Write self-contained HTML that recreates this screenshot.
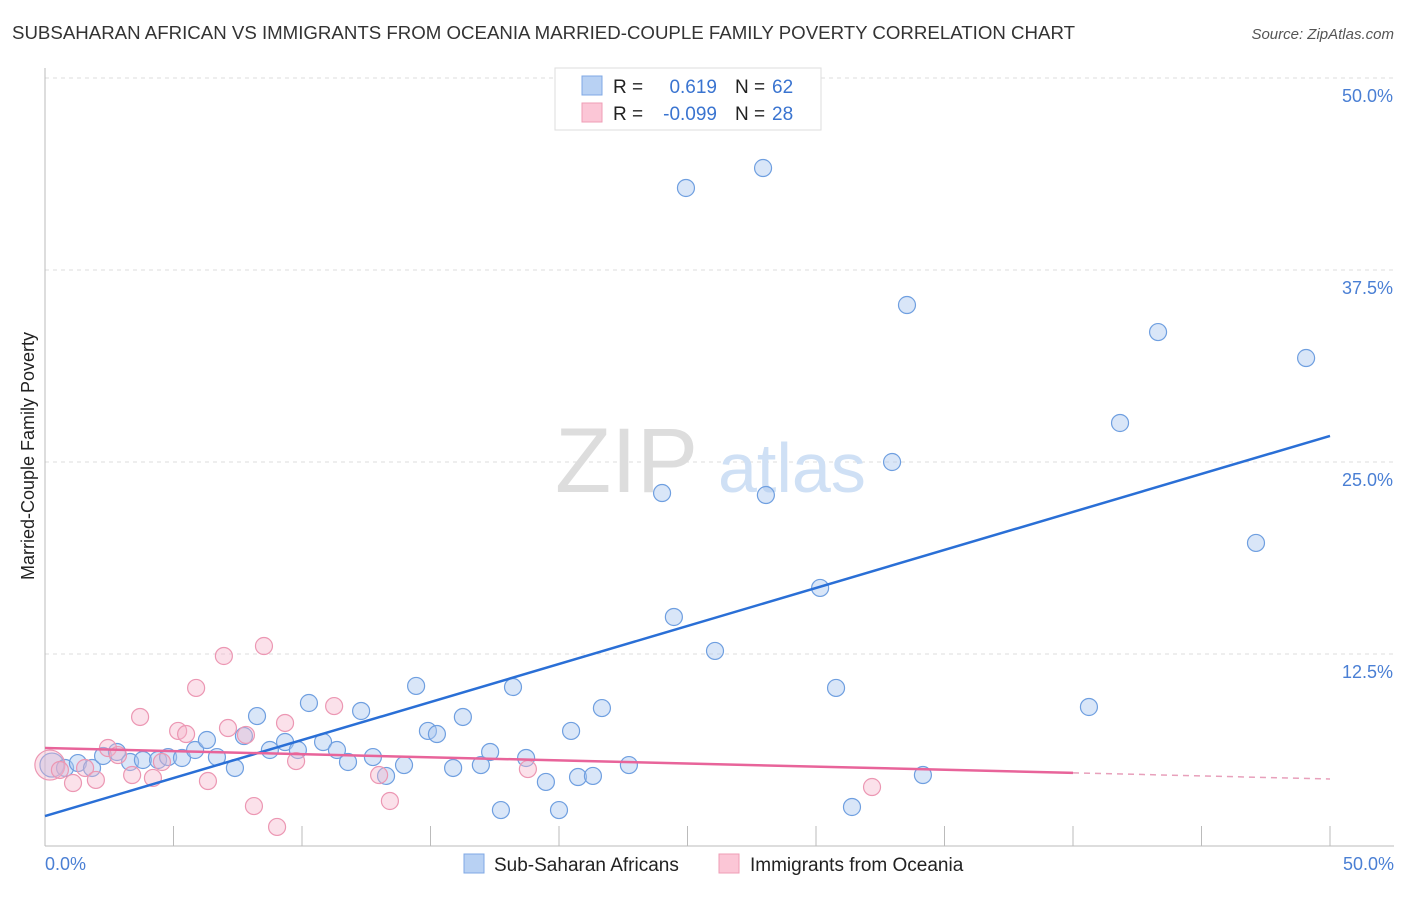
<!DOCTYPE html>
<html><head><meta charset="utf-8"><style>
body{margin:0;background:#fff;font-family:"Liberation Sans",sans-serif;}
svg text{font-family:"Liberation Sans",sans-serif;}
</style></head><body>
<svg id="chart" width="1406" height="892" xmlns="http://www.w3.org/2000/svg">
<text x="12" y="39" font-size="18" fill="#333" textLength="1063" lengthAdjust="spacingAndGlyphs">SUBSAHARAN AFRICAN VS IMMIGRANTS FROM OCEANIA MARRIED-COUPLE FAMILY POVERTY CORRELATION CHART</text>
<text x="1394" y="39" font-size="15" fill="#555" font-style="italic" text-anchor="end">Source: ZipAtlas.com</text>
<text x="34" y="456" font-size="18" fill="#222" text-anchor="middle" transform="rotate(-90 34 456)">Married-Couple Family Poverty</text>
<g id="grid"></g>
<line x1="45" y1="68" x2="45" y2="846" stroke="#bbb"/>
<line x1="45" y1="846" x2="1394" y2="846" stroke="#bbb"/>
<text x="555" y="492" font-size="92" fill="#ddd" font-family="Liberation Serif">ZIP</text>
<text x="718" y="492" font-size="70" fill="#cfe0f5">atlas</text>
<g id="ticks"></g>
<g id="pts"></g>
<g id="lines"></g>
<g>
<rect x="555" y="68" width="266" height="62" fill="#fff" stroke="#ddd"/>
<rect x="582" y="76" width="20" height="19" fill="#b8d1f3" stroke="#7fa8e4"/>
<rect x="582" y="103" width="20" height="19" fill="#fbc6d6" stroke="#ef9db6"/>
<text x="613" y="93" font-size="19" fill="#222">R =</text><text x="717" y="93" font-size="19" fill="#3a74d0" text-anchor="end">0.619</text>
<text x="735" y="93" font-size="19" fill="#222">N =</text><text x="772" y="93" font-size="19" fill="#3a74d0">62</text>
<text x="613" y="120" font-size="19" fill="#222">R =</text><text x="717" y="120" font-size="19" fill="#3a74d0" text-anchor="end">-0.099</text>
<text x="735" y="120" font-size="19" fill="#222">N =</text><text x="772" y="120" font-size="19" fill="#3a74d0">28</text>
</g>
<g>
<rect x="464" y="854" width="20" height="19" fill="#b8d1f3" stroke="#7fa8e4"/>
<text x="494" y="871" font-size="19" fill="#222">Sub-Saharan Africans</text>
<rect x="719" y="854" width="20" height="19" fill="#fbc6d6" stroke="#ef9db6"/>
<text x="750" y="871" font-size="19" fill="#222">Immigrants from Oceania</text>
</g>
</svg>
<script>
const xTicks=[0,5,10,15,20,25,30,35,40,45,50];
const yTicks=[12.5,25,37.5,50];
const yTickLabels=["12.5%","25.0%","37.5%","50.0%"];
const blueX=[0.27,0.78,1.28,1.83,2.26,2.80,3.31,3.81,4.40,4.79,5.33,5.84,6.30,6.69,7.39,7.74,8.25,8.75,9.34,9.84,10.27,10.82,11.36,11.79,12.30,12.76,13.27,13.97,14.44,14.90,15.25,15.88,16.26,16.96,17.32,17.74,18.21,18.72,19.49,20.0,20.47,20.74,21.32,21.67,22.72,24.01,24.47,24.94,26.07,27.94,28.05,30.16,30.78,31.40,32.96,33.54,34.16,40.62,41.83,43.31,47.12,49.07];
const blueY=[5.27,5.08,5.40,5.08,5.86,6.12,5.47,5.60,5.60,5.79,5.73,6.25,6.90,5.79,5.08,7.16,8.46,6.25,6.77,6.25,9.31,6.77,6.25,5.47,8.79,5.79,4.56,5.27,10.42,7.49,7.29,5.08,8.40,5.27,6.12,2.34,10.35,5.73,4.17,2.34,7.49,4.49,4.56,8.98,5.27,22.98,14.91,42.84,12.70,44.14,22.85,16.80,10.29,2.54,25.0,35.22,4.62,9.05,27.54,33.46,19.73,31.77];
const pinkX=[0.19,0.58,1.09,1.56,1.98,2.45,2.84,3.39,3.70,4.20,4.55,5.18,5.49,5.88,6.34,6.96,7.12,7.82,8.13,8.52,9.03,9.34,9.77,11.25,13.0,13.42,18.79,32.18];
const pinkY=[5.27,4.95,4.10,5.08,4.30,6.38,5.92,4.62,8.40,4.43,5.47,7.49,7.29,10.29,4.23,12.37,7.68,7.23,2.60,13.02,1.24,8.01,5.53,9.11,4.62,2.93,5.01,3.84];
const blueTrend=[1.95,26.7];
const pinkTrend=[6.38,4.36];
const pinkSolidEnd=40;
const X=v=>45+v*25.7, Y=v=>846-v*15.36;
const NS="http://www.w3.org/2000/svg";
function mk(tag,attrs,parent){const e=document.createElementNS(NS,tag);for(const k in attrs)e.setAttribute(k,attrs[k]);document.getElementById(parent).appendChild(e);return e;}
yTicks.forEach((t,i)=>{
 const l=mk('line',{x1:45,x2:1394,y1:Y(t),y2:Y(t),stroke:'#ddd','stroke-dasharray':'4,4'},'grid');
 
 
 const tx=mk('text',{x:1393,y:Y(t)+24,'font-size':18,fill:'#4a7fd4','text-anchor':'end'},'grid');
 tx.textContent=yTickLabels[i];
 
 
});
xTicks.forEach(t=>{
 const l=mk('line',{x1:X(t),x2:X(t),y1:826,y2:846,stroke:'#bbb'},'ticks');
 
 
});
[[0,"0.0%",'start',45],[50,"50.0%",'end',1394]].forEach(a=>{
 const tx=mk('text',{x:a[3],y:870,'font-size':18,fill:'#4a7fd4','text-anchor':a[2]},'ticks');
 tx.textContent=a[1];
 
 
});
blueX.forEach((x,i)=>{
 const c=mk('circle',{cx:X(x),cy:Y(blueY[i]),r:i==0?12:8.5,fill:'rgba(170,200,240,0.45)',stroke:'#6f9fe0','stroke-width':1.2},'pts');
 
 
});
pinkX.forEach((x,i)=>{
 const c=mk('circle',{cx:X(x),cy:Y(pinkY[i]),r:i==0?15:8.5,fill:'rgba(245,180,202,0.4)',stroke:'#ec97b3','stroke-width':1.2},'pts');
 
 
});
const bl=mk('line',{x1:X(0),y1:Y(blueTrend[0]),x2:X(50),y2:Y(blueTrend[1]),stroke:'#2a6fd6','stroke-width':2.5},'lines');


const pm=pinkTrend[0]+(pinkTrend[1]-pinkTrend[0])*pinkSolidEnd/50;
const pl=mk('line',{x1:X(0),y1:Y(pinkTrend[0]),x2:X(pinkSolidEnd),y2:Y(pm),stroke:'#e8649a','stroke-width':2.5},'lines');


const pd=mk('line',{x1:X(pinkSolidEnd),y1:Y(pm),x2:X(50),y2:Y(pinkTrend[1]),stroke:'#e8a0bb','stroke-width':1.5,'stroke-dasharray':'6,5'},'lines');


</script>
</body></html>
